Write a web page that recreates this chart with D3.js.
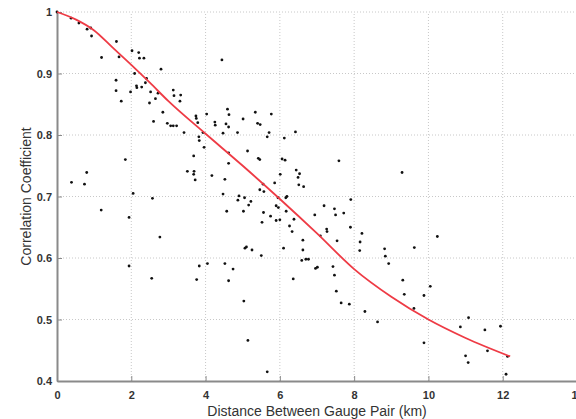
<!DOCTYPE html>
<html>
<head>
<meta charset="utf-8">
<script src="https://cdn.jsdelivr.net/npm/d3@7"></script>
<style>
    body { margin: 0; background: #fff; }
    svg { display: block; font-family: "Liberation Sans", Arial, sans-serif; }
</style>
</head>
<body>
<svg id="chart" width="576" height="419"></svg>
<script>
// gauge pair distances (km) and their correlation
var distance = [0, 0.38, 0.59, 0.81, 0.91, 0.93, 1.2, 1.6, 1.67, 1.59, 1.59, 1.73, 1.98, 2.02, 2.09, 2.14, 2.15, 2.2, 2.22, 2.34,
    2.28, 2.38, 2.41, 2.52, 2.49, 2.65, 2.72, 2.8, 2.85, 2.6, 2.97, 3.06, 3.13, 3.22, 3.13, 3.15, 3.33, 3.31, 3.42, 3.74,
    3.75, 3.79, 3.82, 3.83, 0.39, 0.74, 0.8, 1.19, 1.84, 1.94, 2.05, 1.94, 2.57, 2.77, 3.51, 3.68, 3.69, 3.68, 3.72, 3.83,
    2.55, 3.76, 4.44, 4.59, 4.63, 4.03, 4.25, 4.26, 4.55, 4.62, 5.01, 5.34, 5.4, 5.47, 5.77, 5.71, 5.66, 4.86, 4.47, 3.93,
    6.12, 6.42, 3.96, 4.62, 4.62, 5.13, 5.42, 5.46, 6.06, 6.14, 4.17, 4.52, 6.44, 6.53, 6.49, 6.01, 5.86, 5.55, 5.46, 5.57,
    6.51, 6.64, 7.59, 4.47, 4.9, 4.87, 5.05, 5.22, 5.16, 5.95, 6.16, 6.19, 5.9, 5.96, 6.17, 4.57, 5.02, 5.56, 5.75, 5.52,
    5.9, 6.0, 6.38, 6.26, 6.33, 6.94, 7.19, 7.47, 7.5, 7.72, 7.91, 7.9, 8.21, 7.26, 7.27, 7.09, 7.54, 8.16, 8.15, 6.62,
    6.62, 6.1, 5.1, 5.06, 5.25, 5.5, 4.05, 4.52, 4.74, 6.59, 6.7, 6.77, 6.96, 7.01, 7.43, 4.62, 5.03, 5.14, 5.66, 6.36,
    7.47, 7.52, 7.65, 7.87, 8.29, 8.63, 9.29, 10.24, 9.62, 8.82, 8.84, 8.93, 9.31, 9.35, 9.61, 9.88, 10.05, 9.88, 10.86, 11.08,
    11.0, 11.07, 11.52, 11.59, 11.94, 12.13, 12.09]
var correlation = [1.0, 0.99, 0.982, 0.972, 0.974, 0.961, 0.926, 0.952, 0.927, 0.889, 0.872, 0.855, 0.87, 0.937, 0.9, 0.88, 0.877, 0.934, 0.925, 0.925,
    0.878, 0.885, 0.892, 0.87, 0.852, 0.859, 0.868, 0.907, 0.837, 0.822, 0.819, 0.815, 0.815, 0.815, 0.873, 0.864, 0.865, 0.855, 0.804, 0.831,
    0.827, 0.82, 0.797, 0.791, 0.723, 0.72, 0.739, 0.678, 0.76, 0.666, 0.705, 0.587, 0.697, 0.634, 0.741, 0.766, 0.741, 0.736, 0.727, 0.587,
    0.567, 0.565, 0.922, 0.842, 0.833, 0.834, 0.821, 0.816, 0.818, 0.813, 0.826, 0.837, 0.819, 0.817, 0.834, 0.804, 0.797, 0.804, 0.803, 0.804,
    0.795, 0.805, 0.78, 0.771, 0.754, 0.774, 0.762, 0.76, 0.761, 0.759, 0.734, 0.728, 0.743, 0.737, 0.731, 0.736, 0.722, 0.72, 0.711, 0.708,
    0.719, 0.716, 0.758, 0.704, 0.701, 0.694, 0.698, 0.692, 0.686, 0.698, 0.698, 0.7, 0.685, 0.682, 0.676, 0.676, 0.676, 0.674, 0.668, 0.658,
    0.661, 0.662, 0.663, 0.652, 0.643, 0.67, 0.685, 0.68, 0.67, 0.673, 0.695, 0.65, 0.64, 0.647, 0.643, 0.636, 0.628, 0.626, 0.612, 0.629,
    0.613, 0.616, 0.618, 0.616, 0.613, 0.604, 0.591, 0.591, 0.582, 0.596, 0.598, 0.598, 0.583, 0.585, 0.586, 0.563, 0.53, 0.466, 0.415, 0.566,
    0.572, 0.546, 0.527, 0.525, 0.513, 0.496, 0.739, 0.635, 0.617, 0.615, 0.603, 0.591, 0.564, 0.541, 0.518, 0.539, 0.554, 0.462, 0.488, 0.503,
    0.441, 0.43, 0.483, 0.449, 0.489, 0.44, 0.411]

// fitted curve
var fitDistance = [0, 0.5, 1, 1.5, 2, 2.5, 3, 4, 5, 6, 7, 8, 9, 10, 11, 12.2]
var fitCorrelation = [1.0, 0.988, 0.97, 0.942, 0.914, 0.885, 0.855, 0.802, 0.75, 0.696, 0.64, 0.582, 0.537, 0.5, 0.47, 0.44]

var xTicks = [0, 2, 4, 6, 8, 10, 12, 14]
var yTicks = [0.4, 0.5, 0.6, 0.7, 0.8, 0.9, 1]

var svg = d3.select("#chart"),
    margin = { top: 12, left: 57, bottom: 38, right: -1 },
    width = +svg.attr("width"),
    height = +svg.attr("height");

var x = d3.scaleLinear().domain([0, 14]).range([margin.left, width - margin.right])
var y = d3.scaleLinear().domain([0.4, 1]).range([height - margin.bottom, margin.top])

// grid
svg.append("g")
    .selectAll("line")
    .data(xTicks.slice(1))
    .enter().append("line")
    .attr("x1", d => x(d)).attr("x2", d => x(d))
    .attr("y1", y(0.4)).attr("y2", y(1))
    .attr("stroke", "#c8c8c8")
    .attr("stroke-dasharray", "1,2")
svg.append("g")
    .selectAll("line")
    .data(yTicks.slice(1))
    .enter().append("line")
    .attr("x1", x(0)).attr("x2", x(14))
    .attr("y1", d => y(d)).attr("y2", d => y(d))
    .attr("stroke", "#c8c8c8")
    .attr("stroke-dasharray", "1,2")

var xAxis = svg.append("g")
    .attr("transform", `translate(0,${y(0.4)})`)
    .call(d3.axisBottom(x).tickValues(xTicks).tickFormat(d3.format("d")).tickSizeInner(-5).tickSizeOuter(0).tickPadding(10))
var yAxis = svg.append("g")
    .attr("transform", `translate(${x(0)},0)`)
    .call(d3.axisLeft(y).tickValues(yTicks).tickFormat(d => d == 1 ? "1" : d3.format(".1f")(d)).tickSizeInner(-5).tickSizeOuter(0).tickPadding(5))

svg.selectAll(".domain").attr("stroke", "#8a8a8a").attr("stroke-width", 2)
svg.selectAll(".tick line").attr("stroke", "#8a8a8a")
svg.selectAll(".tick text")
    .attr("fill", "#333")
    .style("font-size", "11px")
    .style("font-weight", "bold")

// points
svg.append("g")
    .selectAll("circle")
    .data(distance.map((d, i) => [d, correlation[i]]))
    .enter().append("circle")
    .attr("cx", d => x(d[0]))
    .attr("cy", d => y(d[1]))
    .attr("r", 1.4)
    .attr("fill", "#111")

// fit line
var line = d3.line()
    .x(d => x(d[0]))
    .y(d => y(d[1]))
    .curve(d3.curveMonotoneX)
svg.append("path")
    .datum(fitDistance.map((d, i) => [d, fitCorrelation[i]]))
    .attr("d", line)
    .attr("fill", "none")
    .attr("stroke", "#ee3b45")
    .attr("stroke-width", 1.8)

// titles
svg.append("text")
    .attr("x", (x(0) + x(14)) / 2)
    .attr("y", 416)
    .attr("text-anchor", "middle")
    .attr("fill", "#333")
    .style("font-size", "14px")
    .text("Distance Between Gauge Pair (km)")
svg.append("text")
    .attr("transform", `translate(31,${(y(0.4) + y(1)) / 2}) rotate(-90)`)
    .attr("text-anchor", "middle")
    .attr("fill", "#333")
    .style("font-size", "14px")
    .text("Correlation Coefficient")
</script>
</body>
</html>
